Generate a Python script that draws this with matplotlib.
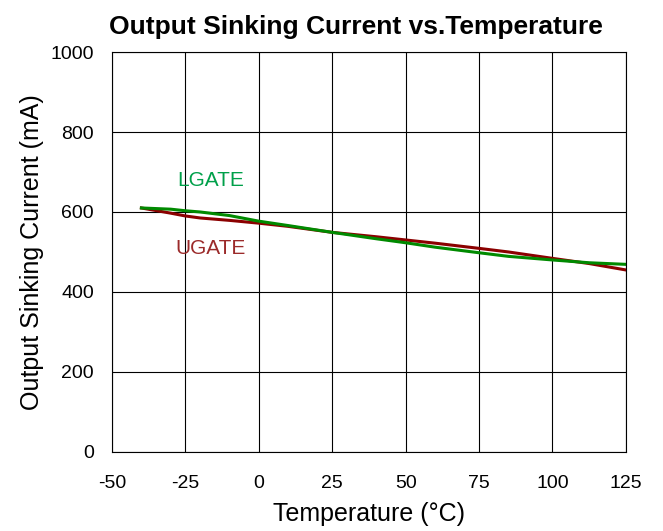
import matplotlib
matplotlib.use("Agg")
import matplotlib.pyplot as plt

plt.rcParams['font.family'] = ['Liberation Sans', 'DejaVu Sans']
plt.rcParams['axes.unicode_minus'] = False

temps = [-40, -30, -25, -20, -10, 0, 10, 25, 40, 50, 60, 75, 85, 100, 112.5, 125]
ugate = [610, 597, 590, 585, 579, 572, 564, 549, 538, 530, 522, 509, 500, 484, 471, 455]
lgate = [610, 607, 603, 600, 591, 577, 566, 549, 533, 523, 512, 498, 489, 480, 473, 469]

xticks = [-50, -25, 0, 25, 50, 75, 100, 125]
yticks = [0, 200, 400, 600, 800, 1000]

fig = plt.figure(figsize=(6.63, 5.31), dpi=100)
ax = fig.add_axes([0.169, 0.149, 0.775, 0.753])

ax.plot(temps, ugate, color='#8b0000', lw=2.2)
ax.plot(temps, lgate, color='#008a00', lw=2.2)

ax.text(-16.5, 678, 'LGATE', color='#00a04a', fontsize=15, ha='center', va='center')
ax.text(-16.5, 508, 'UGATE', color='#9b2a2a', fontsize=15, ha='center', va='center')

ax.set_xlim(-50, 125)
ax.set_ylim(0, 1000)
ax.set_xticks(xticks)
ax.set_yticks(yticks)
ax.grid(True, color='black', lw=0.8)
ax.tick_params(length=0, labelsize=14)
ax.tick_params(axis='x', pad=17)
ax.tick_params(axis='y', pad=13)
for s in ax.spines.values():
    s.set_linewidth(0.8)

ax.set_xlabel('Temperature (°C)', fontsize=18, labelpad=7)
ax.set_ylabel('Output Sinking Current (mA)', fontsize=18, labelpad=5)
ax.set_title('Output Sinking Current vs.Temperature', fontsize=19, fontweight='bold',
             pad=13, x=0.475)

fig.savefig('out.png', dpi=100)
